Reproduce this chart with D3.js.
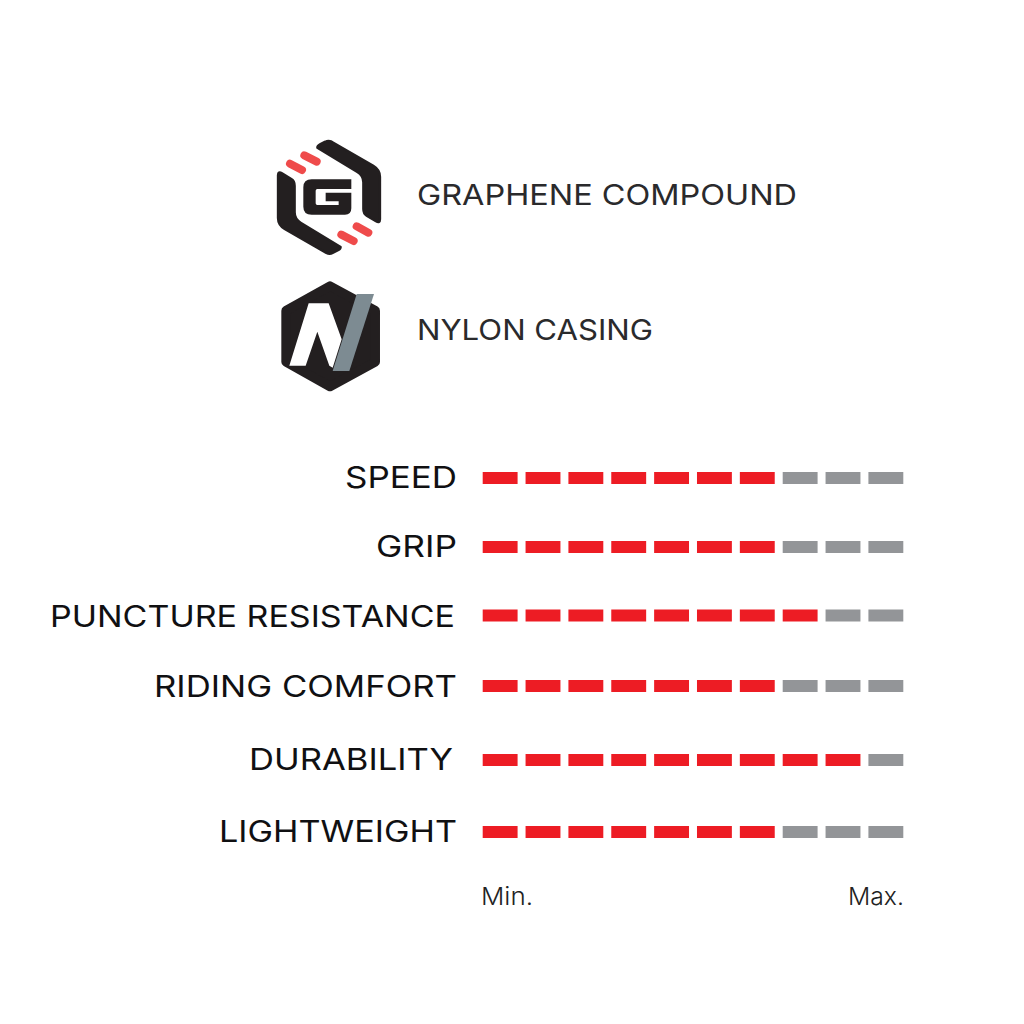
<!DOCTYPE html>
<html><head><meta charset="utf-8">
<script src="https://cdn.jsdelivr.net/npm/d3@7"></script>
<style>html,body{margin:0;padding:0;background:#fff}svg{display:block}text{font-family:Inter,"Open Sans",sans-serif}</style>
</head><body><div id="c"></div>
<script>
const categories = ["SPEED","GRIP","PUNCTURE RESISTANCE","RIDING COMFORT","DURABILITY","LIGHTWEIGHT"];
const ratings = [7,7,8,7,9,7];
const segments = [1,2,3,4,5,6,7,8,9,10];
const features = ["GRAPHENE COMPOUND","NYLON CASING"];
const scaleLabels = ["Min.","Max."];

// layout (separate from the data)
const rowCentres = [478,547,615.5,686,760,832];
const labelCentres = [477,546,616,686,758.5,831];
const labelSpans = [[345,457],[376,457],[50,455],[154,457],[249,453],[219,457]];

const svg = d3.select("#c").append("svg").attr("width",1024).attr("height",1024);
svg.append("rect").attr("width",1024).attr("height",1024).attr("fill","#fff");

const x = d3.scaleBand().domain(segments).range([482.7,903.3]).paddingInner(0.186).paddingOuter(0);
const y = d3.scaleOrdinal().domain(categories).range(rowCentres);
const yLabel = d3.scaleOrdinal().domain(categories).range(labelCentres);
const barH = 12;

const rows = svg.selectAll("g.row").data(categories.map((c,i)=>({c,v:ratings[i],span:labelSpans[i]})))
  .join("g").attr("class","row");
rows.append("text")
  .attr("x",d=>d.span[0]).attr("y",d=>yLabel(d.c)+11)
  .attr("font-size",30).attr("font-weight",400).attr("fill","#101012")
  .attr("textLength",d=>d.span[1]-d.span[0]).attr("lengthAdjust","spacingAndGlyphs")
  .text(d=>d.c);
rows.each(function(d){
  d3.select(this).selectAll("rect").data(segments).join("rect")
    .attr("x",s=>x(s)).attr("y",y(d.c)-barH/2)
    .attr("width",x.bandwidth()).attr("height",barH)
    .attr("fill",s=>s<=d.v?"#ed1c24":"#939598");
});

// scale end labels
svg.append("text").attr("x",481).attr("y",905).attr("font-size",24).attr("font-weight",300)
  .attr("fill","#222").attr("textLength",52).attr("lengthAdjust","spacingAndGlyphs").text(scaleLabels[0]);
svg.append("text").attr("x",848).attr("y",905).attr("font-size",24).attr("font-weight",300)
  .attr("fill","#222").attr("textLength",56).attr("lengthAdjust","spacingAndGlyphs").text(scaleLabels[1]);

// feature labels
svg.append("text").attr("x",417).attr("y",204.5).attr("font-size",29).attr("font-weight",400)
  .attr("fill","#2a2a2c").attr("textLength",380).attr("lengthAdjust","spacingAndGlyphs").text(features[0]);
svg.append("text").attr("x",417).attr("y",340).attr("font-size",29).attr("font-weight",400)
  .attr("fill","#2a2a2c").attr("textLength",236).attr("lengthAdjust","spacingAndGlyphs").text(features[1]);

// graphene icon
const g = svg.append("g").attr("transform","translate(260,125) scale(0.3333)");
const band = "M172,68 Q172,62 180,58 L196,50 Q205,45 215,50 L340,122 Q360,134 360,155 L360,283 Q360,296 348,289 L320,272 Q310,266 310,252 L310,172 Q310,152 292,141 Z";
g.append("path").attr("d",band).attr("fill","#231f20").attr("stroke","#231f20").attr("stroke-width",7).attr("stroke-linejoin","round");
g.append("path").attr("d",band).attr("fill","#231f20").attr("stroke","#231f20").attr("stroke-width",7).attr("stroke-linejoin","round").attr("transform","rotate(180,207,217)");
[[90,116,126,135],[133,91,170,110],[244,329,281,348],[290,304,325,323]].forEach(l=>{
  g.append("line").attr("x1",l[0]).attr("y1",l[1]).attr("x2",l[2]).attr("y2",l[3])
    .attr("stroke","#ef4b4b").attr("stroke-width",24).attr("stroke-linecap","round");
});
g.append("path").attr("fill","#231f20")
  .attr("d","M155,163 H274 V192 H172 Q167,192 167,197 V235 Q167,240 172,240 H236 V229 H197 V203 H274 V250 Q274,269 255,269 H155 Q130,269 130,245 V187 Q130,163 155,163 Z");

// nylon icon
const n = svg.append("g").attr("transform","translate(260,270) scale(0.3333)");
n.append("path").attr("fill","#231f20").attr("stroke","#231f20").attr("stroke-width",28).attr("stroke-linejoin","round")
  .attr("d","M210,48 L346,122 L346,276 L210,350 L78,276 L78,122 Z");
n.append("path").attr("fill","#fff")
  .attr("d","M88,287 L146,100 L206,100 L245,208 L218,293 L208,287 L172,185 L137,287 Z");
n.append("path").attr("fill","#7d8b92")
  .attr("d","M290,72 L342,72 L268,303 L218,303 Z");
</script></body></html>
